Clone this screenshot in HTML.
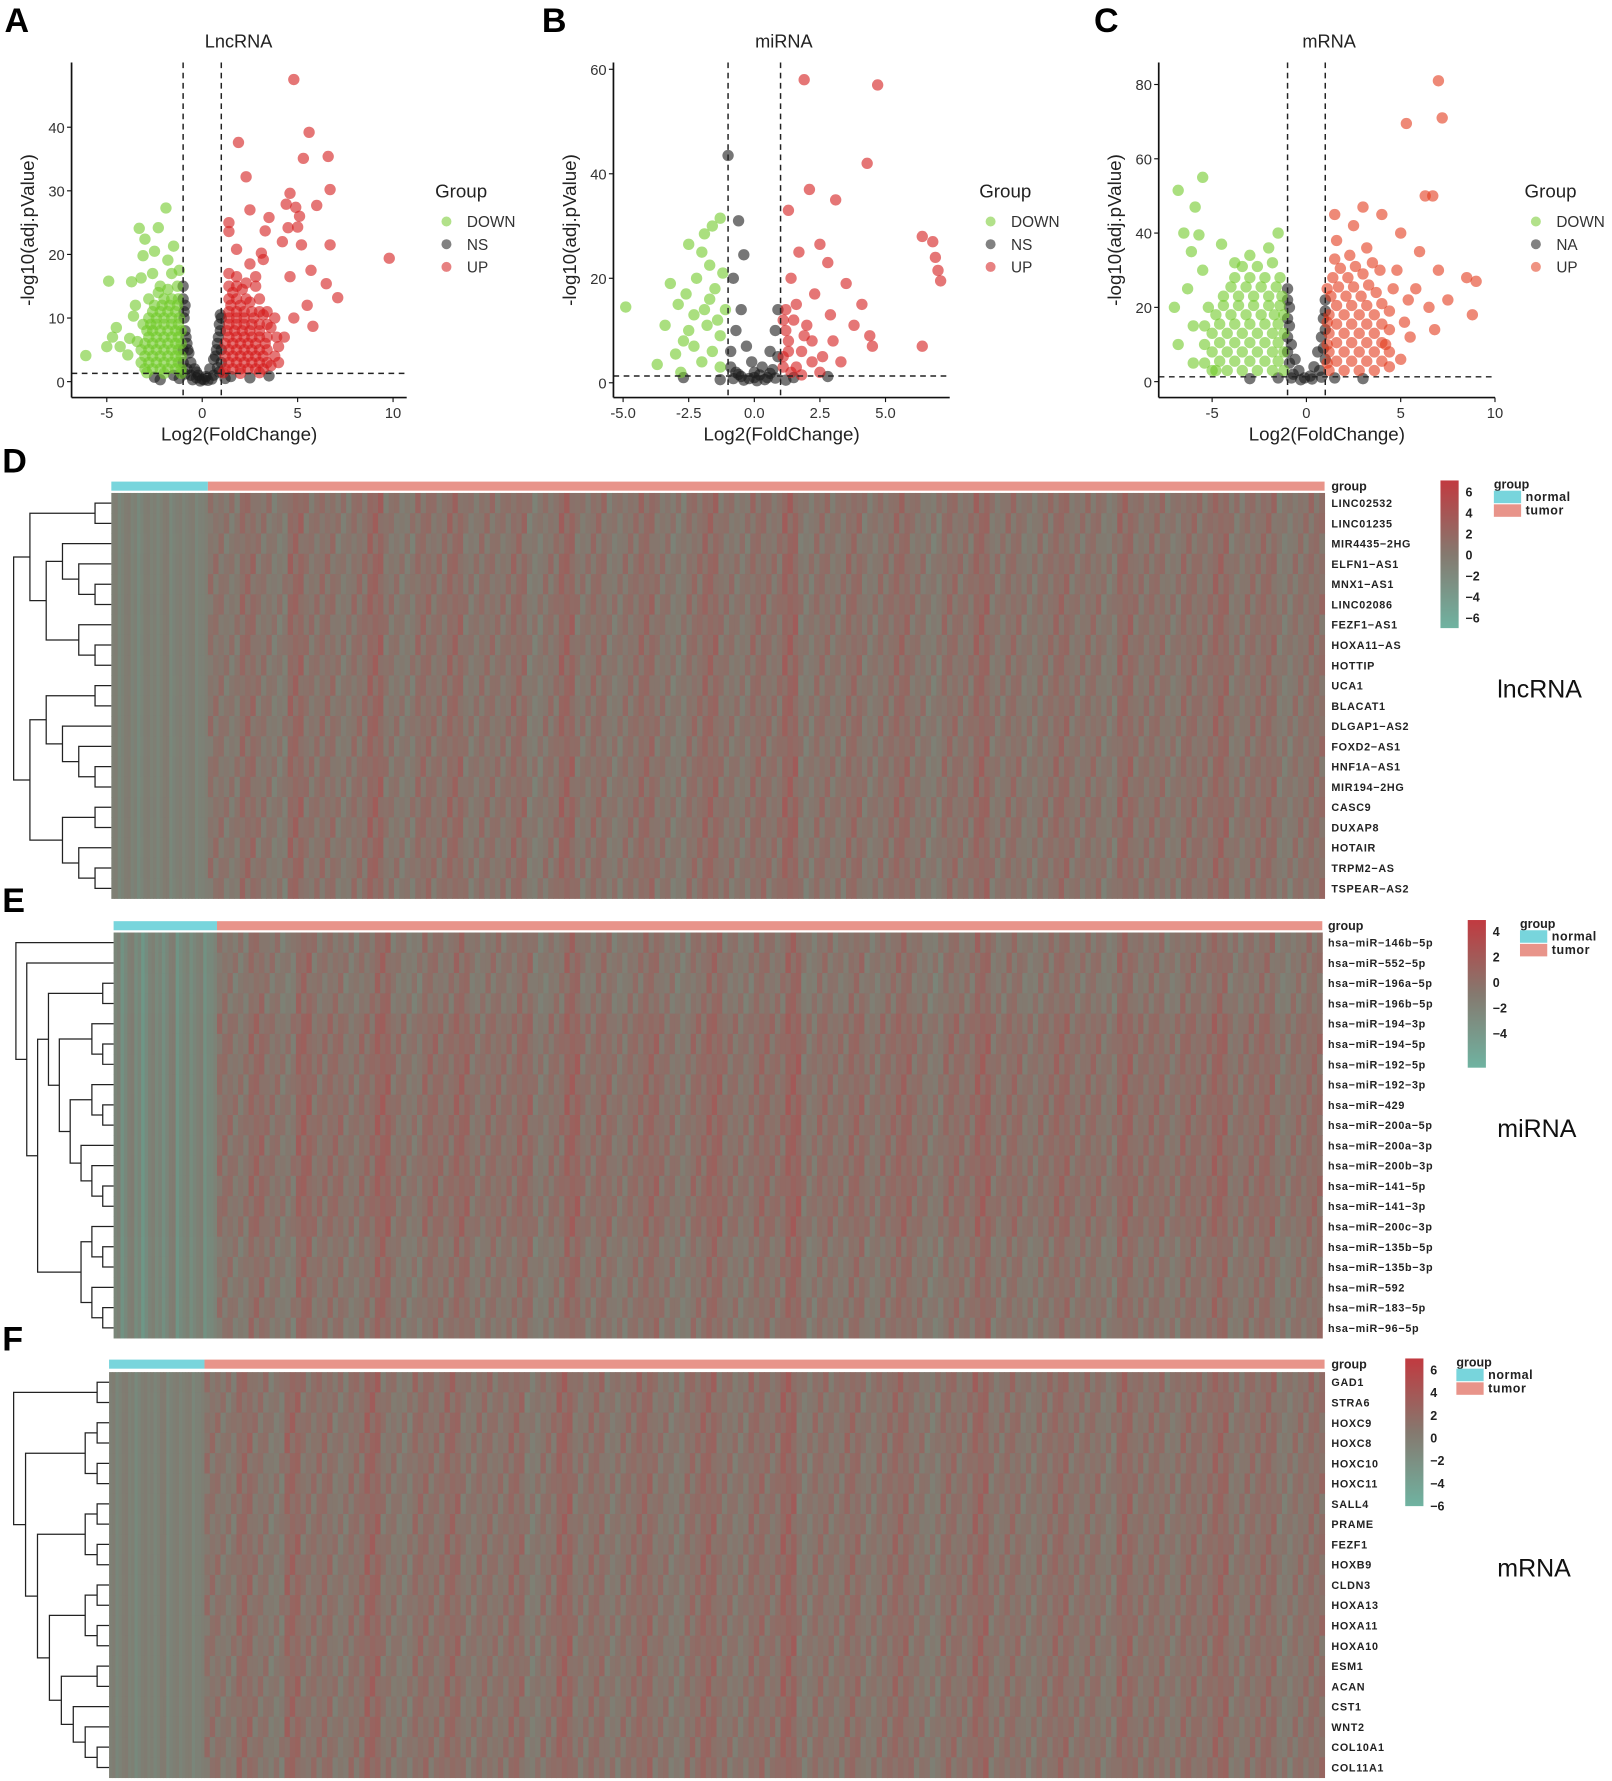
<!DOCTYPE html>
<html><head><meta charset="utf-8"><style>
html,body{margin:0;padding:0;background:#fff}
svg{display:block;font-family:"Liberation Sans",Arial,sans-serif}
</style></head><body>
<svg id="fig" width="1612" height="1781" viewBox="0 0 1419 1568" preserveAspectRatio="none" xmlns="http://www.w3.org/2000/svg">
<defs>
<linearGradient id="cbar" x1="0" y1="0" x2="0" y2="1">
<stop offset="0" stop-color="#c13a40"/><stop offset="0.5" stop-color="#85796f"/><stop offset="1" stop-color="#6fb3a1"/>
</linearGradient>
</defs>
</svg>
<script>
// ===== Volcano data (log2FC, -log10 adj p) =====
const lncDown=[[-6.1,4.1],[-4.9,15.8],[-4.5,8.5],[-5,5.5],[-4.7,7],[-4.3,5.5],[-3.9,4.2],[-3.3,24.1],[-3,22.4],[-2.3,24.2],[-1.9,27.3],[-2.5,20.5],[-3.1,19.8],[-1.5,21.3],[-3.7,15.7],[-3.2,16.3],[-2.6,17],[-1.8,19.1],[-3.5,12],[-2.8,13],[-3.6,10.3],[-3.8,6.8],[-3.4,6.3],[-2.2,15],
[-3,2],[-2.6,2],[-2.2,2],[-1.8,2],[-1.4,2],[-1.1,2],[-3,4],[-2.6,4],[-2.2,4],[-1.8,4],[-1.4,4],[-1.1,4],[-3,6],[-2.6,6],[-2.2,6],[-1.8,6],[-1.4,6],[-1.1,6],[-2.9,8],[-2.6,8],[-2.2,8],[-1.8,8],[-1.4,8],[-1.1,8],[-2.8,10],[-2.4,10],[-2,10],[-1.6,10],[-1.2,10],[-2.5,12],[-2.1,12],[-1.7,12],[-1.3,12],[-2.3,14],[-1.8,14.5],[-1.3,15],[-1.6,17],[-1.2,17.5],
[-2.8,3],[-2.4,3],[-2,3],[-1.6,3],[-1.25,3],[-2.8,5],[-2.4,5],[-2,5],[-1.6,5],[-1.25,5],[-2.8,7],[-2.4,7],[-2,7],[-1.6,7],[-1.25,7],[-2.7,9],[-2.4,9],[-2,9],[-1.6,9],[-1.25,9],[-2.6,11],[-2.2,11],[-1.8,11],[-1.4,11],[-2,13],[-1.6,13],[-1.25,13],[-3.2,3],[-3.2,5],[-3.1,9],[-1.1,1.3],[-2,1.3],[-2.9,1.4]];
const lncNS=[[-1,15],[-0.9,12],[-0.95,10],[-0.9,8],[-0.8,6],[-0.7,4.5],[-0.6,3],[-0.4,2],[-0.2,1],[0,0.4],[0.2,0.8],[0.4,2],[0.6,3.5],[0.75,5],[0.85,7],[0.9,9],[0.95,10.5],[-1.5,1],[1.5,0.8],[2.5,0.6],[-2.5,0.7],[3.5,0.9],[-0.5,0.3],[0.5,0.4],[-2.2,0.3],[-0.9,1.2],[0.9,1.5],[-0.3,0.6],
[-1,13],[-0.95,11],[-0.85,7],[-0.75,5],[0.7,4],[0.8,6],[0.95,8],[1,10],[-0.3,1.5],[0.1,0.3],[-1,3],[1,3],[-1,5],[1,5],[-0.6,1],[0.6,1],[-1.2,0.5],[1.2,0.5],[-0.8,2],[0.8,2.2],[-0.1,0.1],[0.3,0.2]];
const lncUp=[[4.8,47.5],[5.6,39.2],[1.9,37.6],[5.3,35.1],[6.6,35.4],[2.3,32.2],[6.7,30.2],[4.6,29.6],[6,27.7],[2.5,27],[4.4,27.9],[4.9,27.4],[5.1,26],[3.5,25.8],[1.4,25],[1.4,23.6],[3.3,23.7],[4.5,24.2],[5,24.3],[1.8,20.8],[3.1,20.2],[2.5,18.5],[4.2,22],[5.2,21.5],[6.7,21.5],[9.8,19.4],[6.5,15.4],[7.1,13.2],[5.7,17.5],[4.6,16.5],[3.2,19.2],[2.8,16.5],[5.5,12],[5.8,8.7],[4.8,10],[4.3,7],
[1.2,2],[1.6,2],[2,2],[2.4,2],[2.8,2],[3.2,2],[3.6,2.5],[1.2,4],[1.6,4],[2,4],[2.4,4],[2.8,4],[3.2,4],[3.8,4],[1.2,6],[1.6,6],[2,6],[2.4,6],[2.8,6],[3.3,6],[1.3,8],[1.7,8],[2.1,8],[2.5,8],[3,8],[3.6,8.5],[1.4,10],[1.8,10],[2.2,10],[2.7,10],[3.2,10.5],[1.5,12],[2,12],[2.5,12.5],[3,13],[1.6,14],[2.1,14.5],[2.8,15],[1.8,16.5],[1.4,17],
[1.4,3],[1.8,3],[2.2,3],[2.6,3],[3,3],[3.4,3],[1.4,5],[1.8,5],[2.2,5],[2.6,5],[3,5],[3.4,5],[1.4,7],[1.8,7],[2.2,7],[2.6,7],[3,7],[3.4,7],[1.4,9],[1.8,9],[2.2,9],[2.6,9],[3,9],[3.4,9],[1.4,11],[1.8,11],[2.2,11],[2.6,11],[3,11],[3.4,11],[1.4,13],[1.8,13],[2.3,13],[1.4,15],[1.8,15],[2.3,15.5],[4,3],[4,5.5],[3.9,7],[1.1,1.4],[2,1.3],[3,1.4],[3.8,10]];
const mirDown=[[-4.9,14.5],[-3.4,11],[-3.7,3.5],[-3,5.5],[-2.7,8],[-2.5,26.5],[-1.6,30],[-1.3,31.5],[-1.9,28.5],[-2,25],[-1.7,22.5],[-2.2,20],[-1.5,18],[-2.9,15],[-2.3,13],[-1.8,11],[-1.3,9],[-2.5,10],[-1.6,6],[-2,4],[-1.3,3],[-2.8,2],[-1.1,14],[-1.2,21],[-1.7,16],[-2.3,7],[-3.2,19],[-2.6,17],[-1.4,12],[-1.9,14]];
const mirNS=[[-1,43.5],[-0.6,31],[-0.4,24.5],[-0.8,20],[-0.5,14],[-0.7,10],[-0.3,7],[-0.1,4],[0,2],[0.3,3],[0.6,6],[0.8,10],[0.9,14],[-2.7,1],[1.5,1],[2.8,1.2],[-0.9,6],[0.5,1],[-0.5,1.2],[-0.9,3],[0.9,5],[-0.2,0.8],[0.2,1.5],[0.7,2.5],[-0.7,2],[-0.4,0.5],[0.1,0.4],[0.4,0.6],[-0.8,0.8],[0.8,0.9],[1.2,0.5],[-1.3,0.6],[0,1],[0.6,1.8],[-0.6,1.6]];
const mirUp=[[1.9,58],[4.7,57],[4.3,42],[2.1,37],[3.1,35],[1.3,33],[6.4,28],[6.8,27],[6.9,24],[7,21.5],[7.1,19.5],[2.5,26.5],[1.7,25],[2.8,23],[1.4,20],[3.5,19],[2.3,17],[1.6,15],[4.1,15],[2.9,13],[3.8,11],[1.2,10],[4.4,9],[2.2,8],[6.4,7],[4.5,7],[1.8,6],[3.3,4],[1.1,3],[2.5,2],[1.5,12],[1.9,9],[2.6,5],[1.3,6],[1.2,14],[2,11],[3,8],[1.6,3],[1.1,5],[1.3,8],[1.1,12],[1.4,2],[2.2,4],[1.8,1.5]];
const mrnaDown=[[-6.8,51.5],[-5.5,55],[-5.9,47],[-6.5,40],[-5.7,39.5],[-6.1,35],[-4.5,37],[-5.5,30],[-7,20],[-6.8,10],[-6,5],[-4.8,3],[-3.8,32],[-3,34],[-2,36],[-1.5,40],[-6.3,25],[-6,15],
[-5,3],[-4.2,3],[-3.4,3],[-2.6,3],[-1.8,3],[-1.2,3],[-5,8],[-4.2,8],[-3.4,8],[-2.6,8],[-1.8,8],[-1.2,8],[-5,13],[-4.2,13],[-3.4,13],[-2.6,13],[-1.8,13],[-1.2,13],[-4.8,18],[-4,18],[-3.2,18],[-2.4,18],[-1.7,18],[-1.2,18],[-4.4,23],[-3.6,23],[-2.8,23],[-2,23],[-1.3,23],[-3.8,28],[-3,28],[-2.2,28],[-1.4,28],
[-4.6,5.5],[-3.8,5.5],[-3,5.5],[-2.2,5.5],[-1.5,5.5],[-4.6,10.5],[-3.8,10.5],[-3,10.5],[-2.2,10.5],[-1.5,10.5],[-4.6,15.5],[-3.8,15.5],[-3,15.5],[-2.2,15.5],[-1.5,15.5],[-4.4,20.5],[-3.6,20.5],[-2.8,20.5],[-2,20.5],[-1.4,20.5],[-4,25.5],[-3.2,25.5],[-2.4,25.5],[-1.6,25.5],[-5.4,5],[-5.4,10],[-5.4,15],[-5.2,20],[-3.4,31],[-2.6,31],[-1.8,32]];
const mrnaNS=[[-1,25],[-0.9,20],[-0.9,15],[-0.8,10],[-0.6,6],[-0.4,3],[-0.1,1],[0.2,1.5],[0.4,4],[0.6,8],[0.8,12],[0.9,17],[1,22],[-1.5,1],[1.5,1],[-3,0.8],[3,0.8],[-0.7,2],[0.7,3],[-1,12],[-1,8],[-0.9,5],[1,6],[0.9,9],[1,14],[1,19],[-0.3,0.5],[0.3,0.7],[-0.8,1],[0.8,1.2],[-1,17],[-1,22]];
const mrnaUp=[[7,81],[7.2,71],[5.3,69.5],[6.3,50],[6.7,50],[1.5,45],[3,47],[4,45],[2.5,42],[5,40],[6,35],[8.5,28],[9,27],[8.8,18],[7.5,22],[6.8,14],[5.5,12],[4.2,10],[7,30],[5.8,25],[6.5,20],[4.8,30],
[1.2,3],[2,3],[2.8,3],[3.6,3],[4.4,4],[1.2,8],[2,8],[2.8,8],[3.6,8],[4.4,8],[1.2,13],[2,13],[2.8,13],[3.6,13],[4.4,14],[1.2,18],[2,18],[2.8,18],[3.6,18],[4.4,19],[1.3,23],[2.1,23],[2.9,23],[3.7,24],[1.4,28],[2.2,28],[3,29],[3.9,30],[1.5,33],[2.3,34],[3.2,36],[1.6,38],
[1.6,5.5],[2.4,5.5],[3.2,5.5],[4,5.5],[1.6,10.5],[2.4,10.5],[3.2,10.5],[4,10.5],[1.6,15.5],[2.4,15.5],[3.2,15.5],[4,15.5],[1.6,20.5],[2.4,20.5],[3.2,20.5],[4,21],[1.7,25.5],[2.5,25.5],[3.3,26],[1.8,30.5],[2.6,31],[3.5,32],[1.1,5],[1.1,10],[1.1,16],[1.1,25],[5,6],[5.2,16],[5.4,22],[4.6,25]];

// ===== Heatmap data =====
const lncGenes=["LINC02532","LINC01235","MIR4435−2HG","ELFN1−AS1","MNX1−AS1","LINC02086","FEZF1−AS1","HOXA11−AS","HOTTIP","UCA1","BLACAT1","DLGAP1−AS2","FOXD2−AS1","HNF1A−AS1","MIR194−2HG","CASC9","DUXAP8","HOTAIR","TRPM2−AS","TSPEAR−AS2"];
const mirGenes=["hsa−miR−146b−5p","hsa−miR−552−5p","hsa−miR−196a−5p","hsa−miR−196b−5p","hsa−miR−194−3p","hsa−miR−194−5p","hsa−miR−192−5p","hsa−miR−192−3p","hsa−miR−429","hsa−miR−200a−5p","hsa−miR−200a−3p","hsa−miR−200b−3p","hsa−miR−141−5p","hsa−miR−141−3p","hsa−miR−200c−3p","hsa−miR−135b−5p","hsa−miR−135b−3p","hsa−miR−592","hsa−miR−183−5p","hsa−miR−96−5p"];
const mrnaGenes=["GAD1","STRA6","HOXC9","HOXC8","HOXC10","HOXC11","SALL4","PRAME","FEZF1","HOXB9","CLDN3","HOXA13","HOXA11","HOXA10","ESM1","ACAN","CST1","WNT2","COL10A1","COL11A1"];
const lncRowMean=[0.3,0.25,0.1,0.3,0.25,0.35,0.25,0.3,0.25,0.2,0.25,0.3,0.2,0.3,0.25,0.35,0.3,0.25,0.3,0.2];
const mirRowMean=[0.1,0.2,0.0,0.1,0.55,0.55,0.5,0.5,0.55,0.55,0.5,0.55,0.55,0.55,0.5,0.1,0.2,0.1,0.2,0.1];
const mrnaRowMean=[0.45,0.3,0.35,0.35,0.3,0.35,0.3,0.25,0.3,0.35,0.3,0.3,0.35,0.3,0.25,0.3,0.25,0.3,0.3,0.3];
const colTex=[0.5,-0.4,1.8,0.2,-0.8,2.6,0.4,1.1,-0.3,0.9,3.0,0.1,-0.6,1.4,0.6,2.2,-0.2,0.8,0.3,1.7,-0.9,0.5,2.9,0.0,1.2,-0.4,0.7,1.9,0.2,-0.7,1.0,2.4,0.4,-0.2,1.5,0.6,3.2,-0.5,0.9,0.1,1.6,-0.3,0.8,2.0,0.3,-0.8,1.3,0.5,2.7,0.0,1.1,-0.4,0.6,1.8,0.2,0.9,-0.6,2.3,0.4,1.0,-0.2,1.4,0.7,2.5,-0.1,0.8,1.6,-0.7,0.5,1.2];
const subTex=[0.9,-0.7,0.2,-0.3,1.4,-1.0,0.5];
const normTex=[-1.2,-2.4,-0.6,-1.8,-2.9,-0.9,-1.5,-2.1,-0.4,-2.6,-1.1,-1.9,-0.7,-2.3,-1.4];
const lncTicks=["6","4","2","0","−2","−4","−6"];
const mirTicks=["4","2","0","−2","−4"];

const svg=document.getElementById('fig');
const NS="http://www.w3.org/2000/svg";
function el(tag,attrs,parent){const e=document.createElementNS(NS,tag);for(const k in attrs)e.setAttribute(k,attrs[k]);(parent||svg).appendChild(e);return e;}
function txt(s,x,y,size,attrs,parent){const t=el('text',Object.assign({x:x,y:y,'font-size':size,fill:'#222'},attrs||{}),parent);t.textContent=s;return t;}

// ===== Volcano panels =====
function volcano(cfg){
  const g=el('g',{});
  
  
  const X=v=>cfg.x0+(v-cfg.xv0)*cfg.xs, Y=v=>cfg.y0-v*cfg.ys;
  const L=txt(cfg.letter,cfg.lx,28,30,{'font-weight':'bold',fill:'#000'},g);
  
  const T=txt(cfg.title,cfg.tx,42,16,{'text-anchor':'middle'},g);
  
  const series=[[cfg.ns,'#1a1a1a'],[cfg.down,'#72c92a'],[cfg.up,cfg.upc]];
  series.forEach(([arr,c])=>{arr.forEach(p=>{
    const d=el('circle',{cx:X(p[0]),cy:Y(p[1]),r:5,fill:c,'fill-opacity':0.6},g);
    
  });});
  [-1,1].forEach(v=>{const l=el('line',{x1:X(v),x2:X(v),y1:cfg.top,y2:cfg.ax,stroke:'#222','stroke-width':1.3,'stroke-dasharray':'5,4'},g);
    });
  const h=el('line',{x1:cfg.axL,x2:cfg.axR,y1:Y(1.3),y2:Y(1.3),stroke:'#222','stroke-width':1.3,'stroke-dasharray':'5,4'},g);
  
  const ya=el('line',{x1:cfg.axL,x2:cfg.axL,y1:cfg.top,y2:cfg.ax,stroke:'#111','stroke-width':1.5},g);
  
  const xa=el('line',{x1:cfg.axL,x2:cfg.axR,y1:cfg.ax,y2:cfg.ax,stroke:'#111','stroke-width':1.5},g);
  
  cfg.xt.forEach((v,i)=>{el('line',{x1:X(v),x2:X(v),y1:cfg.ax,y2:cfg.ax+4,stroke:'#111'},g);
    const t=txt(cfg.xl[i],X(v),cfg.ax+18,13,{'text-anchor':'middle',fill:'#333'},g);
    });
  cfg.yt.forEach(v=>{el('line',{x1:cfg.axL-4,x2:cfg.axL,y1:Y(v),y2:Y(v),stroke:'#111'},g);
    const t=txt(String(v),cfg.axL-6,Y(v)+5,13,{'text-anchor':'end',fill:'#333'},g);
    });
  const xt=txt('Log2(FoldChange)',(cfg.axL+cfg.axR)/2,388,16.5,{'text-anchor':'middle'},g);
  
  const yt=txt('-log10(adj.pValue)',0,0,16.5,{'text-anchor':'middle',transform:`translate(${cfg.axL-33},${(cfg.top+cfg.ax)/2}) rotate(-90)`},g);
  
  const lg=el('g',{},g);
  txt('Group',cfg.gx,174,16.5,{},lg);
  [['DOWN','#72c92a'],[cfg.nsLabel,'#1a1a1a'],['UP',cfg.upc]].forEach((e,i)=>{
    const c=el('circle',{cx:cfg.gx+10,cy:195+20*i,r:4.4,fill:e[1],'fill-opacity':0.55},lg);
    
    txt(e[0],cfg.gx+28,200+20*i,13.5,{fill:'#333'},lg);});
}
volcano({name:'volcano-lncrna',letter:'A',lx:4,title:'LncRNA',tx:210,x0:178,xv0:0,xs:16.8,y0:336,ys:5.6,top:55,ax:350,axL:63,axR:358,
  xt:[-5,0,5,10],xl:['-5','0','5','10'],yt:[0,10,20,30,40],down:lncDown,ns:lncNS,up:lncUp,upc:'#d41a1a',gx:383,nsLabel:'NS'});
volcano({name:'volcano-mirna',letter:'B',lx:477,title:'miRNA',tx:690,x0:664,xv0:0,xs:23.1,y0:337,ys:4.6,top:55,ax:350,axL:540,axR:836,
  xt:[-5,-2.5,0,2.5,5],xl:['-5.0','-2.5','0.0','2.5','5.0'],yt:[0,20,40,60],down:mirDown,ns:mirNS,up:mirUp,upc:'#d41a1a',gx:862,nsLabel:'NS'});
volcano({name:'volcano-mrna',letter:'C',lx:963,title:'mRNA',tx:1170,x0:1150,xv0:0,xs:16.6,y0:336,ys:3.27,top:55,ax:350,axL:1020,axR:1316,
  xt:[-5,0,5,10],xl:['-5','0','5','10'],yt:[0,20,40,60,80],down:mrnaDown,ns:mrnaNS,up:mrnaUp,upc:'#e23a1c',gx:1342,nsLabel:'NA'});

// ===== Heatmaps =====
function lerp(a,b,t){return a.map((v,i)=>Math.round(v+(b[i]-v)*t));}
function colr(v){const mid=[130,122,112],hi=[193,58,64],lo=[95,172,152];
  const c=v>=0?lerp(mid,hi,Math.min(v/6,1)):lerp(mid,lo,Math.min(-v/6,1));return `rgb(${c[0]},${c[1]},${c[2]})`;}
function dendro(g,tree,left,right,rowY){
  function depth(n){return Array.isArray(n)?1+Math.max(depth(n[0]),depth(n[1])):0;}
  const D=depth(tree),sc=(right-left)/D;
  function draw(n){if(!Array.isArray(n))return {y:rowY(n),x:right};
    const a=draw(n[0]),b=draw(n[1]);const x=right-depth(n)*sc;
    el('path',{d:`M${a.x},${a.y}H${x}V${b.y}H${b.x}`,fill:'none',stroke:'#222','stroke-width':1.1},g);
    return {y:(a.y+b.y)/2,x:x};}
  draw(tree);
}
function heatmap(cfg){
  const g=el('g',{});
  const L=txt(cfg.letter,2,cfg.top-8,30,{'font-weight':'bold',fill:'#000'},g);
  
  const W=cfg.x1-cfg.x0,H=cfg.b1-cfg.b0,rh=H/cfg.genes.length;
  const n1=el('rect',{x:cfg.x0,y:cfg.top,width:cfg.xn-cfg.x0,height:8,fill:'#78d5dc'},g);
  
  const t1=el('rect',{x:cfg.xn,y:cfg.top,width:cfg.x1-cfg.xn,height:8,fill:'#e8948a'},g);
  
  const nw=(cfg.xn-cfg.x0)/(normTex.length*2), tw=(cfg.x1-cfg.xn)/(colTex.length*3);
  cfg.genes.forEach((gn,r)=>{
    const y=cfg.b0+r*rh;
    normTex.forEach((v,c)=>{for(let s=0;s<2;s++){const k=el('rect',{x:cfg.x0+(c*2+s)*nw,y:y,width:nw+0.4,height:rh+0.4,fill:colr(v*cfg.nAmp*(s?0.7:1.1)+cfg.rows[r]*0.3)},g);
      }});
    colTex.forEach((v,c)=>{for(let s=0;s<3;s++){const k=el('rect',{x:cfg.xn+(c*3+s)*tw,y:y,width:tw+0.4,height:rh+0.4,fill:colr(v*0.45+subTex[(c*3+s+r)%subTex.length]*0.8+cfg.rows[r])},g);
      }});
    const lb=txt(gn,cfg.lx,y+rh/2+3.5,9.5,{'font-weight':'bold',fill:'#222','letter-spacing':'0.6'},g);
    
  });
  const hd=txt('group',cfg.lx,cfg.top+8,11,{'font-weight':'bold',fill:'#222'},g);
  
  const dg=el('g',{},g);
  dendro(dg,cfg.tree,cfg.dl,cfg.x0,i=>cfg.b0+(i+0.5)*rh);
  const cb=el('rect',{x:cfg.cx,y:cfg.top-1,width:16,height:130,fill:'url(#cbar)'},g);
  
  cfg.ticks.forEach((t,i)=>{const s=txt(t,cfg.cx+22,cfg.top+13+i*cfg.tstep,11,{'font-weight':'bold',fill:'#222'},g);
    });
  const lg=el('g',{},g);
  txt('group',cfg.gx,cfg.top+6,11,{'font-weight':'bold'},lg);
  el('rect',{x:cfg.gx,y:cfg.top+8,width:24,height:11,fill:'#78d5dc'},lg);
  el('rect',{x:cfg.gx,y:cfg.top+20,width:24,height:11,fill:'#e8948a'},lg);
  txt('normal',cfg.gx+28,cfg.top+17,11,{'font-weight':'bold','letter-spacing':'0.5'},lg);
  txt('tumor',cfg.gx+28,cfg.top+29,11,{'font-weight':'bold','letter-spacing':'0.5'},lg);
  const big=txt(cfg.label,1318,cfg.labY,22,{fill:'#111'},g);
  
}
const treeD=[[[0,1],[[2,[3,[4,5]]],[6,[7,8]]]],[[[9,10],[11,[12,[13,14]]]],[[15,16],[17,[18,19]]]]];
const treeE=[0,[1,[[[2,3],[[4,[5,6]],[[7,[8,9]],[10,[11,[12,13]]]]]],[[14,[15,16]],[17,[18,19]]]]]];
const treeF=[[0,1],[[[2,3],[4,5]],[[[6,7],[8,9]],[[[10,11],[12,13]],[[14,15],[16,[17,[18,19]]]]]]]];
heatmap({name:'heatmap-lncrna',letter:'D',top:424,x0:98,xn:183,x1:1166,b0:434,b1:791,genes:lncGenes,rows:lncRowMean,nAmp:0.6,lx:1172,tree:treeD,dl:12,cx:1268,ticks:lncTicks,tstep:18.5,gx:1315,label:'lncRNA',labY:614});
heatmap({name:'heatmap-mirna',letter:'E',top:811,x0:100,xn:191,x1:1164,b0:821,b1:1178,genes:mirGenes,rows:mirRowMean,nAmp:1.1,lx:1169,tree:treeE,dl:14,cx:1292,ticks:mirTicks,tstep:22.5,gx:1338,label:'miRNA',labY:1001});
heatmap({name:'heatmap-mrna',letter:'F',top:1197,x0:96,xn:180,x1:1166,b0:1208,b1:1565,genes:mrnaGenes,rows:mrnaRowMean,nAmp:0.6,lx:1172,tree:treeF,dl:12,cx:1237,ticks:lncTicks,tstep:20,gx:1282,label:'mRNA',labY:1388});
</script>
</body></html>
